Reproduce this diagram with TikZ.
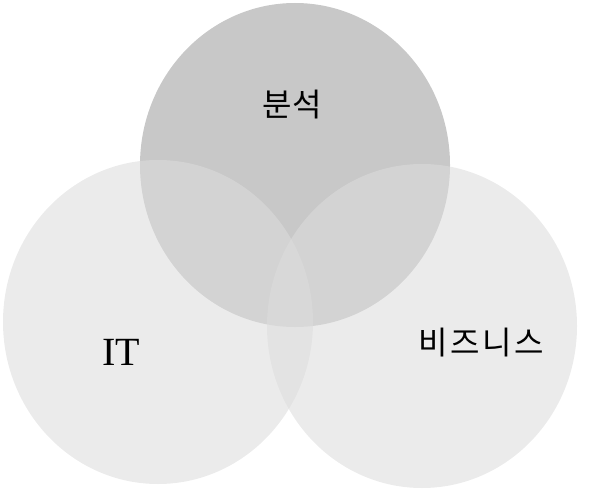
\documentclass[tikz,border=0pt]{standalone}
\usepackage{fontspec}
\setmainfont{Liberation Serif}
\newfontfamily\kofont{Noto Sans CJK KR}
\newfontfamily\kowide[LetterSpace=8]{Noto Sans CJK KR}
\usetikzlibrary{shapes.geometric}
\definecolor{topgray}{RGB}{200,200,200}
\definecolor{sidegray}{RGB}{220,220,220}
\tikzset{
  setbox/.style={ellipse, inner sep=0pt, minimum width=310pt, minimum height=324pt},
  setlabel/.style={font=\kofont\fontsize{32}{36}\selectfont, text=black}
}

\begin{document}
\begin{tikzpicture}[x=1pt,y=-1pt]
                            \useasboundingbox (0,0) rectangle (607,489);
                            \node[setbox, fill=topgray] (analysis) at (295,165) {};
                            \node[setbox, fill=sidegray, fill opacity=0.56] (itset) at (158,322) {};
                            \node[setbox, fill=sidegray, fill opacity=0.56] (business) at (422,326) {};
                            \node[setlabel] (analysislabel) at (292,105) {분석};
                            \node[setlabel, font=\fontsize{40}{44}\selectfont] (itlabel) at (121,352) {IT};
                            \node[setlabel, font=\kowide\fontsize{32}{36}\selectfont] (businesslabel) at (481,343) {비즈니스};
                        \end{tikzpicture}
\end{document}
